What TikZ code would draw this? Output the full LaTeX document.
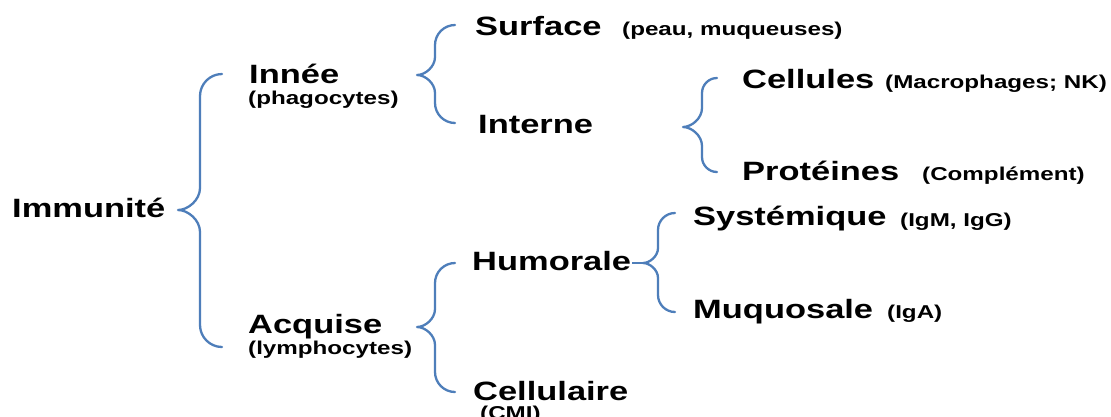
\documentclass[tikz,border=0pt]{standalone}
\usepackage{fontspec}
\setmainfont{Liberation Sans}[FakeStretch=1.3]
\definecolor{bracecol}{RGB}{78,126,186}
\tikzset{
  bracestyle/.style={draw=bracecol, line width=2.3pt, line cap=round, line join=round},
  mainlbl/.style={anchor=base west, inner sep=0pt, font=\fontsize{26.5}{30}\selectfont\bfseries},
  notelbl/.style={anchor=base west, inner sep=0pt, font=\fontsize{18.6}{21}\selectfont\bfseries},
}
% #1 end x, #2 top y, #3 vertical x, #4 tip x, #5 tip y, #6 bottom y
\newcommand\cbrace[6]{%
  \draw[bracestyle] (#1,#2) .. controls ({#1-0.55*(#1-#3)},#2) and (#3,{#2+0.45*(#1-#3)}) .. (#3,{#2+(#1-#3)})
   -- (#3,{#5-(#3-#4)}) .. controls (#3,{#5-0.45*(#3-#4)}) and ({#3-0.55*(#3-#4)},#5) .. (#4,#5)
   .. controls ({#3-0.55*(#3-#4)},#5) and (#3,{#5+0.45*(#3-#4)}) .. (#3,{#5+(#3-#4)})
   -- (#3,{#6-(#1-#3)}) .. controls (#3,{#6-0.45*(#1-#3)}) and ({#1-0.55*(#1-#3)},#6) .. (#1,#6);}
\begin{document}
\begin{tikzpicture}[x=1pt,y=-1pt]
\useasboundingbox[fill=white] (0,0) rectangle (1111,416);
% labels
\node[mainlbl] (imm) at (12,217) {Immunité};
\node[mainlbl] (innee) at (249,83) {Innée};
\node[notelbl] (phago) at (248,104) {(phagocytes)};
\node[mainlbl] (acq) at (248,333) {Acquise};
\node[notelbl] (lympho) at (248,354) {(lymphocytes)};
\node[mainlbl] (surf) at (475,35) {Surface};
\node[notelbl] (surfN) at (622,35) {(peau, muqueuses)};
\node[mainlbl] (interne) at (478,133) {Interne};
\node[mainlbl] (cell) at (742,88) {Cellules};
\node[notelbl] (cellN) at (885,88) {(Macrophages; NK)};
\node[mainlbl] (prot) at (742,180) {Protéines};
\node[notelbl] (protN) at (922,180) {(Complément)};
\node[mainlbl] (hum) at (472,270) {Humorale};
\node[mainlbl] (syst) at (693,225) {Systémique};
\node[notelbl] (systN) at (900,226) {(IgM, IgG)};
\node[mainlbl] (muq) at (693,318) {Muquosale};
\node[notelbl] (muqN) at (887,318) {(IgA)};
\node[mainlbl] (cellu) at (473,400) {Cellulaire};
\node[notelbl] (cmi) at (480,419) {(CMI)};
% braces
\cbrace{222}{74}{200}{178}{210}{347}
\cbrace{455}{25}{435}{417}{75}{123}
\cbrace{717}{78}{702}{683}{127}{172}
\cbrace{675}{213}{658}{643}{263}{312}
\cbrace{455}{263}{435}{417}{327}{392}
\coordinate (humtip) at (643,263);
\draw[draw=bracecol, line width=1.2pt] (hum.east |- humtip) ++(1,0) -- (humtip);
\end{tikzpicture}
\end{document}
